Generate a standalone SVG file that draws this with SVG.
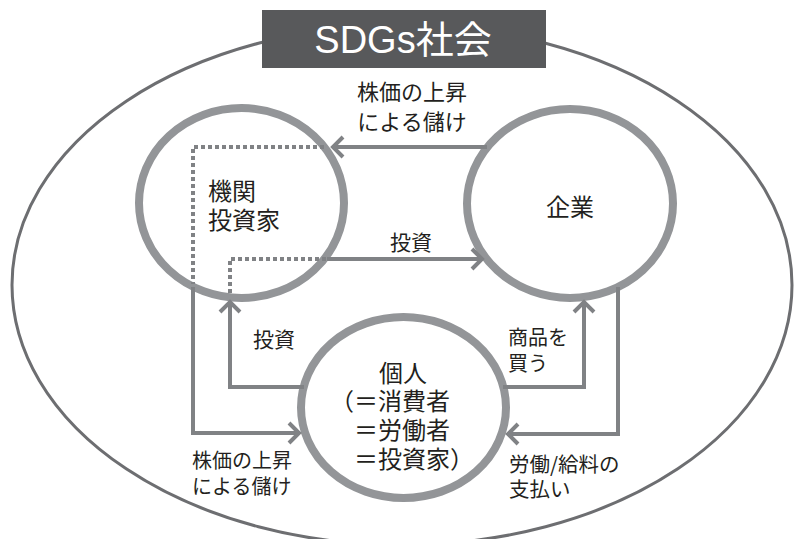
<svg xmlns="http://www.w3.org/2000/svg" width="795" height="539" viewBox="0 0 795 539">
<style>
.bg{fill:#ffffff}
.society{fill:none;stroke:#6d6e71;stroke-width:3}
.node{fill:#ffffff;stroke:#939598;stroke-width:8}
.conn{fill:none;stroke:#808285;stroke-width:4}
.dot{fill:none;stroke:#808285;stroke-width:4;stroke-dasharray:4 3}
.t{font-family:"Noto Sans CJK JP","Noto Sans",sans-serif;fill:#231f20}
.title{font-family:"Liberation Sans","Noto Sans CJK JP",sans-serif;fill:#ffffff;font-size:38px}
</style>
<defs>
<marker id="arr" markerUnits="userSpaceOnUse" markerWidth="30" markerHeight="30" viewBox="-15 -15 30 30" refX="0" refY="0" orient="auto" overflow="visible">
<path d="M-11,-10 L-1,0 L-11,10" fill="none" stroke="#808285" stroke-width="4"/>
</marker>
</defs>
<rect class="bg" x="0" y="0" width="795" height="539"/>
<g id="society">
<ellipse class="society" cx="402" cy="285" rx="390" ry="260"/>
<rect x="262" y="10" width="284" height="58" fill="#58595b"/>
<text class="title" x="403" y="53" text-anchor="middle">SDGs社会</text>
</g>
<g id="investor">
<ellipse class="node" cx="241.5" cy="203" rx="102.5" ry="95"/>
<text class="t" font-size="24" x="208" y="200">機関</text>
<text class="t" font-size="24" x="208" y="229">投資家</text>
</g>
<g id="company">
<ellipse class="node" cx="570" cy="203.5" rx="103" ry="94.5"/>
<text class="t" font-size="24" x="570" y="216" text-anchor="middle">企業</text>
</g>
<g id="individual">
<ellipse class="node" cx="403.5" cy="407.5" rx="102.5" ry="90.5"/>
<text class="t" font-size="24" x="403" y="382" text-anchor="middle">個人</text>
<text class="t" font-size="24" x="330" y="410">（＝消費者</text>
<text class="t" font-size="24" x="354" y="439">＝労働者</text>
<text class="t" font-size="24" x="354" y="468">＝投資家）</text>
</g>
<g id="connectors">
<path class="conn" d="M487,147 L332,147" marker-end="url(#arr)"/>
<path class="dot" d="M324,147 L193,147 L193,284"/>
<path class="conn" d="M193,287 L193,433 L300,433" marker-end="url(#arr)"/>
<path class="dot" d="M326,259 L230,259 L230,294"/>
<path class="conn" d="M327,259 L483,259" marker-end="url(#arr)"/>
<path class="conn" d="M304,387 L230,387 L230,301" marker-end="url(#arr)"/>
<path class="conn" d="M503,387 L584,387 L584,301" marker-end="url(#arr)"/>
<path class="conn" d="M618,287 L618,434 L507,434" marker-end="url(#arr)"/>
</g>
<g id="labels">
<text class="t" font-size="22" x="412" y="100" text-anchor="middle">株価の上昇</text>
<text class="t" font-size="22" x="412" y="130" text-anchor="middle">による儲け</text>
<text class="t" font-size="21" x="411" y="250" text-anchor="middle">投資</text>
<text class="t" font-size="21" x="274" y="347" text-anchor="middle">投資</text>
<text class="t" font-size="20" x="508" y="345">商品を</text>
<text class="t" font-size="20" x="508" y="371">買う</text>
<text class="t" font-size="20" x="192" y="468">株価の上昇</text>
<text class="t" font-size="20" x="192" y="494">による儲け</text>
<text class="t" font-size="20.5" x="509" y="472">労働/給料の</text>
<text class="t" font-size="20.5" x="509" y="497">支払い</text>
</g>
</svg>
